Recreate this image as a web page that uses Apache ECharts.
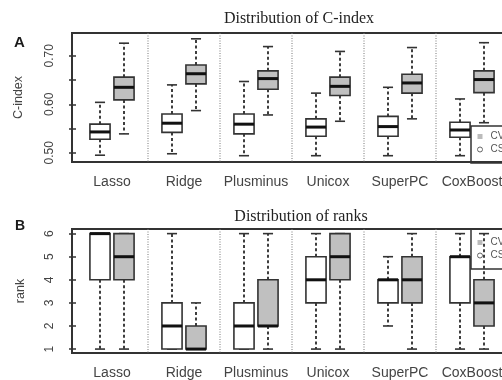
<!DOCTYPE html>
<html><head><meta charset="utf-8">
<script src="https://cdn.jsdelivr.net/npm/echarts@6/dist/echarts.min.js"></script>
<style>html,body{margin:0;padding:0;overflow:hidden;background:#fff;width:502px;height:380px}#c{width:530px;height:380px}</style>
</head><body><div id="c"></div>
<script>
// ---- data ----
const methods = ['Lasso', 'Ridge', 'Plusminus', 'Unicox', 'SuperPC', 'CoxBoost'];
// five-number summaries: [lower whisker, Q1, median, Q3, upper whisker]
const cindexCV = [
  [0.495, 0.528, 0.543, 0.559, 0.604],
  [0.498, 0.542, 0.561, 0.580, 0.640],
  [0.494, 0.539, 0.559, 0.580, 0.647],
  [0.494, 0.534, 0.553, 0.570, 0.623],
  [0.494, 0.534, 0.554, 0.575, 0.635],
  [0.494, 0.532, 0.547, 0.563, 0.611]
];
const cindexCSV = [
  [0.539, 0.609, 0.635, 0.656, 0.726],
  [0.587, 0.642, 0.663, 0.681, 0.735],
  [0.578, 0.631, 0.653, 0.669, 0.719],
  [0.565, 0.618, 0.637, 0.656, 0.709],
  [0.570, 0.623, 0.644, 0.662, 0.717],
  [0.562, 0.624, 0.651, 0.669, 0.727]
];
const rankCV = [
  [1, 4, 6, 6, 6],
  [1, 1, 2, 3, 6],
  [1, 1, 2, 3, 6],
  [1, 3, 4, 5, 6],
  [2, 3, 4, 4, 5],
  [1, 3, 5, 5, 6]
];
const rankCSV = [
  [1, 4, 5, 6, 6],
  [1, 1, 1, 2, 3],
  [1, 2, 2, 4, 6],
  [1, 4, 5, 6, 6],
  [1, 3, 4, 5, 6],
  [1, 2, 3, 4, 6]
];
const cindexTicks = [0.50, 0.55, 0.60, 0.65, 0.70];
const cindexLabels = [0.50, 0.60, 0.70];
const rankTicks = [1, 2, 3, 4, 5, 6];
const legendNames = ['CV', 'CSV'];

// ---- layout helpers (positions on the value x axis) ----
const cvPos = i => 3 * i + 1;
const csvPos = i => 3 * i + 2;
const labelPos = methods.map((m, i) => 3 * i + 1.5);
const dividerPos = methods.slice(1).map((m, i) => 3 * i + 3);

const FONT = 'Liberation Sans, Arial, sans-serif';
const DARK = '#333';

function boxRenderer(fill) {
  return function (params, api) {
    const p = api.value(0);
    const lo = api.value(1), q1 = api.value(2), md = api.value(3), q3 = api.value(4), hi = api.value(5);
    const bw = api.size([0.84, 0])[0];
    const cw = api.size([0.42, 0])[0];
    const pt = v => api.coord([p, v]);
    const x = pt(md)[0];
    const yLo = pt(lo)[1], yQ1 = pt(q1)[1], yMd = pt(md)[1], yQ3 = pt(q3)[1], yHi = pt(hi)[1];
    const whisk = { stroke: '#2a2a2a', lineWidth: 1.8, lineDash: [3, 2.5] };
    const solid = { stroke: DARK, lineWidth: 1.6 };
    const ch = [];
    if (yHi < yQ3 - 0.5) ch.push({ type: 'line', shape: { x1: x, y1: yQ3, x2: x, y2: yHi }, style: whisk });
    if (yLo > yQ1 + 0.5) ch.push({ type: 'line', shape: { x1: x, y1: yQ1, x2: x, y2: yLo }, style: whisk });
    ch.push({ type: 'line', shape: { x1: x - cw / 2, y1: yHi, x2: x + cw / 2, y2: yHi }, style: solid });
    ch.push({ type: 'line', shape: { x1: x - cw / 2, y1: yLo, x2: x + cw / 2, y2: yLo }, style: solid });
    ch.push({ type: 'rect', shape: { x: x - bw / 2, y: yQ3, width: bw, height: yQ1 - yQ3 },
      style: { fill: fill, stroke: DARK, lineWidth: 1.6 } });
    ch.push({ type: 'line', shape: { x1: x - bw / 2, y1: yMd, x2: x + bw / 2, y2: yMd },
      style: { stroke: '#111', lineWidth: 3 } });
    return { type: 'group', children: ch };
  };
}

function dividerRenderer(params, api) {
  const cs = params.coordSys;
  const x = api.coord([api.value(0), api.value(1)])[0];
  return { type: 'line', shape: { x1: x, y1: cs.y, x2: x, y2: cs.y + cs.height },
    style: { stroke: '#777', lineWidth: 1, lineDash: [1, 1.5] } };
}

function xAxisFor(g) {
  return {
    gridIndex: g, type: 'value', min: -1 / 6, max: 18 + 1 / 6,
    axisLine: { show: false }, axisTick: { show: false }, splitLine: { show: false },
    axisLabel: {
      customValues: labelPos,
      formatter: v => methods[Math.round((v - 1.5) / 3)],
      margin: 13, fontSize: 14, color: '#444', fontFamily: FONT
    }
  };
}

function yAxisFor(g, min, max, ticks, labels, name, fmt, gap) {
  return {
    gridIndex: g, type: 'value', min: min, max: max,
    name: name, nameLocation: 'middle', nameRotate: 90, nameGap: gap,
    nameTextStyle: { fontSize: 12.5, color: '#444', fontFamily: FONT },
    axisLine: { show: false }, splitLine: { show: false },
    axisTick: { show: true, customValues: ticks, length: 7, lineStyle: { color: DARK, width: 1.5 } },
    axisLabel: { customValues: labels, rotate: 90, margin: 16, formatter: fmt,
      fontSize: 12, color: '#444', fontFamily: FONT }
  };
}

function boxSeries(name, g, rows, posFn, fill) {
  return {
    name: name, type: 'custom', xAxisIndex: g, yAxisIndex: g,
    renderItem: boxRenderer(fill),
    encode: { x: 0, y: [1, 2, 3, 4, 5] },
    data: rows.map((r, i) => [posFn(i)].concat(r)),
    z: 3
  };
}

function dividerSeries(g, yv) {
  return {
    type: 'custom', xAxisIndex: g, yAxisIndex: g, renderItem: dividerRenderer,
    encode: { x: 0, y: 1 }, data: dividerPos.map(p => [p, yv]), silent: true, z: 1
  };
}

function legendFor(top, padding) {
  return {
    orient: 'vertical', left: 471, top: top, padding: padding,
    borderColor: DARK, borderWidth: 1.5, backgroundColor: 'transparent',
    itemWidth: 5, itemHeight: 5, itemGap: 2, selectedMode: false,
    textStyle: { fontSize: 10, color: '#555', fontFamily: FONT, lineHeight: 11, padding: [0, 0, 0, 3] },
    data: [
      { name: legendNames[0], icon: 'rect', itemStyle: { color: '#bbb', borderWidth: 0 } },
      { name: legendNames[1], icon: 'circle', itemStyle: { color: '#fff', borderColor: '#666', borderWidth: 1 } }
    ]
  };
}

const chart = echarts.init(document.getElementById('c'), null, { renderer: 'canvas' });
chart.setOption({
  animation: false,
  backgroundColor: '#fff',
  title: [
    { text: 'Distribution of C-index', left: 299, top: 11, textAlign: 'center', padding: 0,
      textStyle: { fontFamily: 'Liberation Serif, Times New Roman, serif', fontSize: 16, fontWeight: 'normal', color: '#222' } },
    { text: 'Distribution of ranks', left: 301, top: 209, textAlign: 'center', padding: 0,
      textStyle: { fontFamily: 'Liberation Serif, Times New Roman, serif', fontSize: 16, fontWeight: 'normal', color: '#222' } },
    { text: 'A', left: 14, top: 35, padding: 0,
      textStyle: { fontFamily: FONT, fontSize: 15, fontWeight: 'bold', color: '#1a1a1a' } },
    { text: 'B', left: 15, top: 219, padding: 0,
      textStyle: { fontFamily: FONT, fontSize: 14, fontWeight: 'bold', color: '#1a1a1a' } }
  ],
  legend: [legendFor(126, [5, 40, 8, 6]), legendFor(229, [8, 40, 8, 6])],
  grid: [
    { left: 72, top: 33, width: 440, height: 129, show: true, borderColor: DARK, borderWidth: 2 },
    { left: 72, top: 229, width: 440, height: 128, show: true, borderColor: DARK, borderWidth: 2 }
  ],
  xAxis: [xAxisFor(0), xAxisFor(1)],
  yAxis: [
    yAxisFor(0, 0.481, 0.747, cindexTicks, cindexLabels, 'C-index', v => v.toFixed(2), 47),
    yAxisFor(1, 0.83, 6.2, rankTicks, rankTicks, 'rank', v => String(Math.round(v)), 45)
  ],
  series: [
    dividerSeries(0, 0.6),
    dividerSeries(1, 3),
    boxSeries('CV', 0, cindexCV, cvPos, '#fff'),
    boxSeries('CSV', 0, cindexCSV, csvPos, '#c0c0c0'),
    boxSeries('CV', 1, rankCV, cvPos, '#fff'),
    boxSeries('CSV', 1, rankCSV, csvPos, '#c0c0c0')
  ]
});
</script></body></html>
